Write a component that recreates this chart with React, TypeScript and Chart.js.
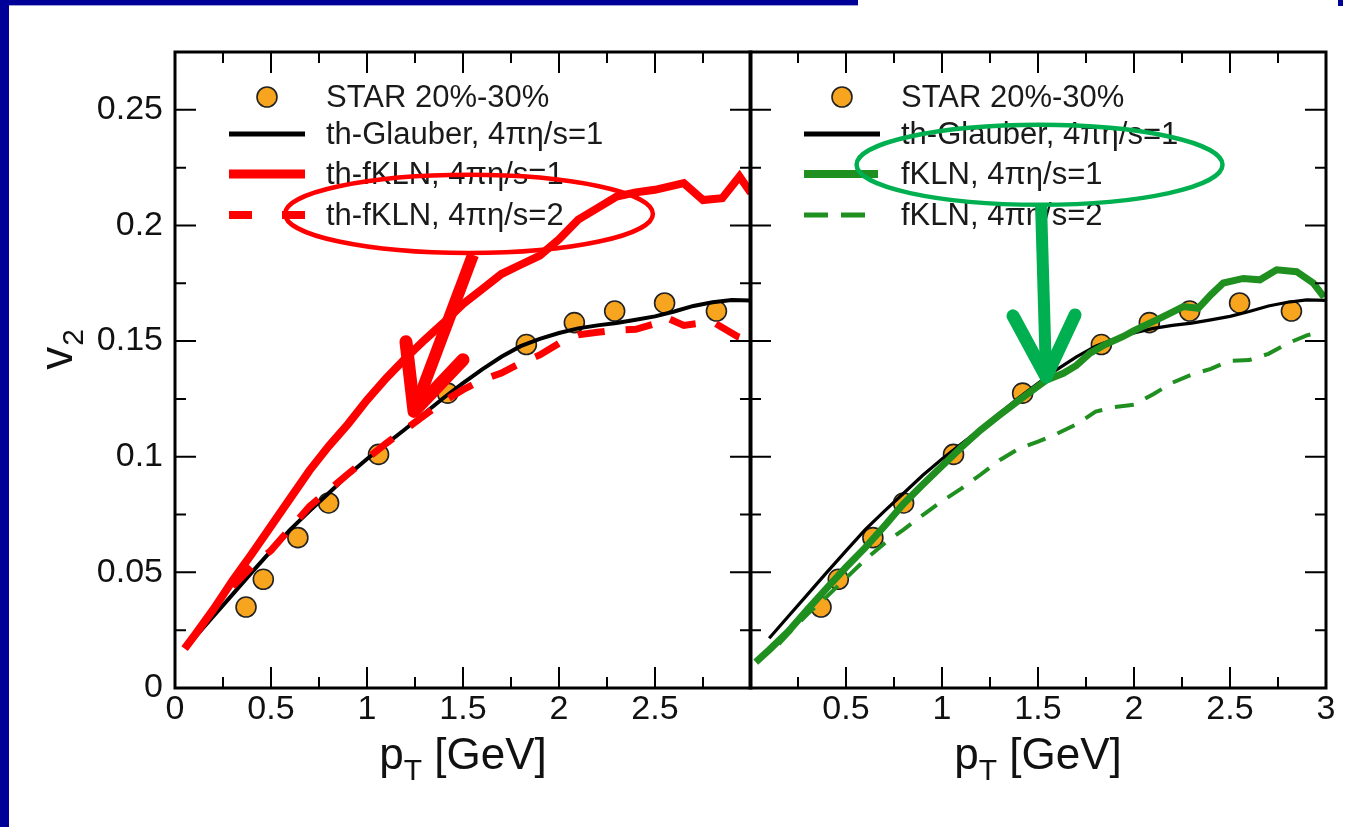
import React, { useEffect, useRef } from "react";
import { Chart, registerables } from "chart.js";

Chart.register(...registerables);

const W = 1358;
const H = 827;
const FONT = '"Liberation Sans", Arial, Helvetica, sans-serif';

// ---------- data ----------
const STAR_PT = [0.37, 0.46, 0.64, 0.8, 1.06, 1.42, 1.83, 2.08, 2.29, 2.55, 2.82];
const STAR_V2 = [0.035, 0.047, 0.065, 0.08, 0.101, 0.1275, 0.1485, 0.158, 0.163, 0.1665, 0.163];

const GLAUBER_PT = [0.1, 0.2, 0.3, 0.4, 0.5, 0.6, 0.7, 0.8, 0.9, 1.0, 1.1, 1.2, 1.3, 1.4, 1.5, 1.6, 1.7, 1.8, 1.9, 2.0, 2.1, 2.2, 2.3, 2.4, 2.5, 2.6, 2.7, 2.8, 2.9, 3.0];
const GLAUBER_V2 = [0.0215, 0.031, 0.0405, 0.05, 0.0593, 0.0685, 0.0765, 0.0842, 0.092, 0.099, 0.1055, 0.112, 0.1188, 0.1255, 0.1318, 0.1378, 0.1432, 0.1478, 0.151, 0.1535, 0.1555, 0.1568, 0.1578, 0.1592, 0.1607, 0.1628, 0.1652, 0.1668, 0.1678, 0.1676];

const TH_FKLN1_PT = [0.05, 0.1, 0.2, 0.3, 0.4, 0.5, 0.6, 0.7, 0.8, 0.9, 1.0, 1.1, 1.2, 1.3, 1.4, 1.5, 1.6, 1.7, 1.8, 1.9, 2.0, 2.1, 2.2, 2.3, 2.4, 2.5, 2.65, 2.75, 2.85, 2.94, 3.0];
const TH_FKLN1_V2 = [0.017, 0.0225, 0.034, 0.0465, 0.058, 0.07, 0.082, 0.094, 0.1045, 0.114, 0.1245, 0.134, 0.1425, 0.1505, 0.158, 0.166, 0.1725, 0.179, 0.183, 0.187, 0.194, 0.2025, 0.2075, 0.2125, 0.2143, 0.2154, 0.2183, 0.211, 0.2118, 0.2212, 0.214];

const TH_FKLN2_PT = [0.3, 0.4, 0.5, 0.6, 0.7, 0.8, 0.9, 1.0, 1.1, 1.2, 1.3, 1.4, 1.5, 1.6, 1.7, 1.8, 1.9, 2.0, 2.1, 2.2, 2.3, 2.4, 2.5, 2.55, 2.65, 2.8, 2.93, 3.0];
const TH_FKLN2_V2 = [0.0438, 0.0525, 0.0595, 0.069, 0.0785, 0.0855, 0.0925, 0.0992, 0.1058, 0.1118, 0.118, 0.124, 0.129, 0.1332, 0.1362, 0.1405, 0.144, 0.149, 0.1527, 0.1538, 0.1548, 0.1551, 0.1575, 0.1605, 0.1568, 0.1584, 0.152, 0.15];

const FKLN1_PT = [0.03, 0.1, 0.2, 0.3, 0.4, 0.5, 0.6, 0.7, 0.8, 0.9, 1.0, 1.1, 1.2, 1.3, 1.4, 1.5, 1.545, 1.632, 1.7, 1.771, 1.85, 1.944, 2.0, 2.118, 2.2, 2.257, 2.335, 2.4, 2.465, 2.569, 2.656, 2.743, 2.847, 2.934, 2.99];
const FKLN1_V2 = [0.0112, 0.0165, 0.0245, 0.034, 0.0432, 0.0522, 0.0607, 0.07, 0.0797, 0.088, 0.096, 0.104, 0.1115, 0.118, 0.1243, 0.1305, 0.1332, 0.1361, 0.1395, 0.1448, 0.1485, 0.152, 0.1545, 0.1592, 0.1625, 0.1649, 0.1642, 0.17, 0.1751, 0.1771, 0.1765, 0.1808, 0.18, 0.1751, 0.169];

const FKLN2_PT = [0.15, 0.2, 0.3, 0.4, 0.5, 0.6, 0.7, 0.8, 0.9, 1.0, 1.1, 1.2, 1.3, 1.4, 1.5, 1.6, 1.7, 1.8, 1.9, 2.0, 2.1, 2.2, 2.3, 2.4, 2.5, 2.6, 2.7, 2.8, 2.9, 2.95];
const FKLN2_V2 = [0.019, 0.0235, 0.032, 0.0395, 0.0475, 0.0555, 0.0625, 0.0685, 0.0748, 0.0808, 0.0862, 0.0922, 0.0985, 0.1035, 0.1065, 0.11, 0.114, 0.1195, 0.1215, 0.1225, 0.127, 0.132, 0.1355, 0.138, 0.1415, 0.1418, 0.1445, 0.149, 0.1525, 0.1535];

const LEGEND_LEFT = ["STAR 20%-30%", "th-Glauber, 4πη/s=1", "th-fKLN, 4πη/s=1", "th-fKLN, 4πη/s=2"];
const LEGEND_RIGHT = ["STAR 20%-30%", "th-Glauber, 4πη/s=1", "fKLN, 4πη/s=1", "fKLN, 4πη/s=2"];

const X_TITLE = ["p", "T", " [GeV]"];
const Y_TITLE = ["v", "2"];

// axis ranges / ticks
const X_MIN = 0, X_MAX = 3, X_MAJOR = 0.5, X_MINOR = 0.25;
const Y_MIN = 0, Y_MAX = 0.275, Y_MAJOR = 0.05, Y_MINOR = 0.025;

// annotations in data coordinates (pT, v2)
const ANN_LEFT = {
  color: "#ff0000",
  ellipse: { x: 1.531, y: 0.205, rx: 0.958, ry: 0.0169 },
  shaft: [[1.552, 0.1873], [1.245, 0.1196]],
  head: [[1.203, 0.1497], [1.245, 0.1196], [1.5, 0.1419]],
};
const ANN_RIGHT = {
  color: "#00b050",
  ellipse: { x: 1.508, y: 0.2262, rx: 0.953, ry: 0.0173 },
  shaft: [[1.516, 0.2085], [1.542, 0.1345]],
  head: [[1.37, 0.1609], [1.542, 0.1345], [1.693, 0.1613]],
};

// ---------- styles / layout ----------
const ORANGE = "#f7a51e";
const RED = "#ff0000";
const GREEN = "#1f8f1f";
const TICK_MAJOR = 21;
const TICK_MINOR = 11;
const PLOT_TOP = 52;
const PLOT_BOTTOM = 688;

type Series = {
  label: string;
  xs: number[];
  ys: number[];
  marker?: boolean;
  color: string;
  width: number;
  dash: number[];
  legendWidth: number;
  legendDash: number[];
  legendLen: number;
};

type Panel = {
  id: string;
  left: number;
  right: number;
  showY: boolean;
  hideX: number;
  series: Series[]; // legend order
  ann: typeof ANN_LEFT;
};

const zip = (xs: number[], ys: number[]) => xs.map((x, i) => ({ x, y: ys[i] }));

function buildPanels(): Panel[] {
  const star = (label: string): Series => ({
    label, xs: STAR_PT, ys: STAR_V2, marker: true, color: ORANGE, width: 0, dash: [], legendWidth: 0, legendDash: [], legendLen: 0,
  });
  const glauber = (label: string, w: number): Series => ({
    label, xs: GLAUBER_PT, ys: GLAUBER_V2, color: "#000000", width: w, dash: [], legendWidth: 5, legendDash: [], legendLen: 76,
  });
  return [
    {
      id: "L", left: 175, right: 751, showY: true, hideX: 3,
      series: [
        star(LEGEND_LEFT[0]),
        glauber(LEGEND_LEFT[1], 4),
        { label: LEGEND_LEFT[2], xs: TH_FKLN1_PT, ys: TH_FKLN1_V2, color: RED, width: 8, dash: [], legendWidth: 9, legendDash: [], legendLen: 76 },
        { label: LEGEND_LEFT[3], xs: TH_FKLN2_PT, ys: TH_FKLN2_V2, color: RED, width: 7, dash: [27, 21], legendWidth: 8, legendDash: [23, 30], legendLen: 76 },
      ],
      ann: ANN_LEFT,
    },
    {
      id: "R", left: 750, right: 1326, showY: false, hideX: 0,
      series: [
        star(LEGEND_RIGHT[0]),
        glauber(LEGEND_RIGHT[1], 3.2),
        { label: LEGEND_RIGHT[2], xs: FKLN1_PT, ys: FKLN1_V2, color: GREEN, width: 7, dash: [], legendWidth: 8, legendDash: [], legendLen: 74 },
        { label: LEGEND_RIGHT[3], xs: FKLN2_PT, ys: FKLN2_V2, color: GREEN, width: 4, dash: [19, 13], legendWidth: 5, legendDash: [24, 13], legendLen: 63 },
      ],
      ann: ANN_RIGHT,
    },
  ];
}

function decorPlugin(p: Panel) {
  return {
    id: "decor" + p.id,
    afterDatasetsDraw(chart: any) {
      const { ctx, chartArea: a } = chart;
      const xs = chart.scales.x;
      const ys = chart.scales.y;
      ctx.save();
      ctx.strokeStyle = "#000";
      ctx.lineWidth = 2;
      ctx.beginPath();
      const nx = Math.round((X_MAX - X_MIN) / X_MINOR);
      for (let i = 1; i < nx; i++) {
        const px = xs.getPixelForValue(X_MIN + i * X_MINOR);
        const len = i % 2 === 0 ? TICK_MAJOR : TICK_MINOR;
        ctx.moveTo(px, a.bottom);
        ctx.lineTo(px, a.bottom - len);
        ctx.moveTo(px, a.top);
        ctx.lineTo(px, a.top + len);
      }
      const ny = Math.round((Y_MAX - Y_MIN) / Y_MINOR);
      for (let i = 1; i < ny; i++) {
        const py = ys.getPixelForValue(Y_MIN + i * Y_MINOR);
        const len = i % 2 === 0 ? TICK_MAJOR : TICK_MINOR;
        ctx.moveTo(a.left, py);
        ctx.lineTo(a.left + len, py);
        ctx.moveTo(a.right, py);
        ctx.lineTo(a.right - len, py);
      }
      ctx.stroke();
      ctx.lineWidth = 3;
      ctx.strokeRect(a.left, a.top, a.right - a.left, a.bottom - a.top);
      ctx.restore();
    },
    afterDraw(chart: any) {
      const { ctx, chartArea: a } = chart;
      const xs = chart.scales.x;
      const ys = chart.scales.y;
      ctx.save();

      // legend
      const rows = [45, 82, 122, 163];
      p.series.forEach((s, i) => {
        const y = a.top + rows[i];
        if (s.marker) {
          ctx.beginPath();
          ctx.arc(a.left + 92, y, 10, 0, Math.PI * 2);
          ctx.fillStyle = s.color;
          ctx.fill();
          ctx.lineWidth = 1.6;
          ctx.strokeStyle = "#222";
          ctx.stroke();
        } else {
          ctx.beginPath();
          ctx.setLineDash(s.legendDash);
          ctx.lineWidth = s.legendWidth;
          ctx.strokeStyle = s.color;
          ctx.lineCap = "butt";
          ctx.moveTo(a.left + 54, y);
          ctx.lineTo(a.left + 54 + s.legendLen, y);
          ctx.stroke();
          ctx.setLineDash([]);
        }
        ctx.fillStyle = "#1a1a1a";
        ctx.font = `31px ${FONT}`;
        ctx.textAlign = "left";
        ctx.textBaseline = "middle";
        ctx.fillText(s.label, a.left + 151, y + 1);
      });

      // x title
      ctx.fillStyle = "#111";
      ctx.textBaseline = "alphabetic";
      ctx.textAlign = "left";
      const big = `44px ${FONT}`;
      const small = `30px ${FONT}`;
      ctx.font = big;
      const w0 = ctx.measureText(X_TITLE[0]).width;
      const w2 = ctx.measureText(X_TITLE[2]).width;
      ctx.font = small;
      const w1 = ctx.measureText(X_TITLE[1]).width;
      const cx = (a.left + a.right) / 2;
      let x = cx - (w0 + w1 + w2) / 2;
      const base = 769;
      ctx.font = big;
      ctx.fillText(X_TITLE[0], x, base);
      x += w0;
      ctx.font = small;
      ctx.fillText(X_TITLE[1], x, base + 11);
      x += w1;
      ctx.font = big;
      ctx.fillText(X_TITLE[2], x, base);

      // y title
      if (p.showY) {
        ctx.save();
        ctx.translate(72, 350);
        ctx.rotate(-Math.PI / 2);
        ctx.font = `46px ${FONT}`;
        const vw = ctx.measureText(Y_TITLE[0]).width;
        ctx.font = small;
        const sw = ctx.measureText(Y_TITLE[1]).width;
        let yx = -(vw + sw) / 2;
        ctx.font = `46px ${FONT}`;
        ctx.fillText(Y_TITLE[0], yx, 0);
        yx += vw + 1;
        ctx.font = small;
        ctx.fillText(Y_TITLE[1], yx, 11);
        ctx.restore();
      }

      // annotations
      const ann = p.ann;
      const px = (pt: number[]) => [xs.getPixelForValue(pt[0]), ys.getPixelForValue(pt[1])];
      const e = ann.ellipse;
      const ecx = xs.getPixelForValue(e.x);
      const ecy = ys.getPixelForValue(e.y);
      const erx = xs.getPixelForValue(e.x + e.rx) - ecx;
      const ery = ecy - ys.getPixelForValue(e.y + e.ry);
      ctx.strokeStyle = ann.color;
      ctx.lineWidth = 4.5;
      ctx.beginPath();
      ctx.ellipse(ecx, ecy, erx, ery, 0, 0, Math.PI * 2);
      ctx.stroke();

      const s0 = px(ann.shaft[0]);
      const s1 = px(ann.shaft[1]);
      ctx.lineWidth = 12;
      ctx.lineCap = "butt";
      ctx.beginPath();
      ctx.moveTo(s0[0], s0[1]);
      ctx.lineTo(s1[0], s1[1]);
      ctx.stroke();

      ctx.lineWidth = 13;
      ctx.lineCap = "round";
      ctx.lineJoin = "round";
      ctx.beginPath();
      ann.head.forEach((pt, i) => {
        const q = px(pt);
        if (i === 0) ctx.moveTo(q[0], q[1]);
        else ctx.lineTo(q[0], q[1]);
      });
      ctx.stroke();

      ctx.restore();
    },
  };
}

function makeConfig(p: Panel): any {
  const drawOrder = [p.series[2], p.series[3], p.series[1], p.series[0]];
  const datasets = drawOrder.map((s) =>
    s.marker
      ? {
          label: s.label,
          data: zip(s.xs, s.ys),
          showLine: false,
          pointRadius: 10,
          pointBackgroundColor: s.color,
          pointBorderColor: "#222",
          pointBorderWidth: 1.6,
        }
      : {
          label: s.label,
          data: zip(s.xs, s.ys),
          showLine: true,
          pointRadius: 0,
          borderColor: s.color,
          borderWidth: s.width,
          borderDash: s.dash,
          fill: false,
          tension: 0,
        }
  );
  return {
    type: "scatter",
    data: { datasets },
    options: {
      animation: false,
      responsive: false,
      maintainAspectRatio: false,
      events: [],
      layout: {
        padding: { left: 0, right: W - p.right, top: PLOT_TOP, bottom: 0 },
      },
      plugins: { legend: { display: false }, tooltip: { enabled: false } },
      scales: {
        x: {
          type: "linear",
          position: "bottom",
          min: X_MIN,
          max: X_MAX,
          grid: { display: false, drawTicks: false },
          border: { display: false },
          ticks: {
            stepSize: X_MAJOR,
            autoSkip: false,
            maxRotation: 0,
            padding: 1,
            color: "#111",
            font: { family: FONT, size: 34 },
            callback: (v: number) => (Math.abs(v - p.hideX) < 1e-9 ? "" : String(v)),
          },
          afterFit: (s: any) => {
            s.height = H - PLOT_BOTTOM;
          },
        },
        y: {
          type: "linear",
          position: "left",
          min: Y_MIN,
          max: Y_MAX,
          grid: { display: false, drawTicks: false },
          border: { display: false },
          ticks: {
            display: p.showY,
            stepSize: Y_MAJOR,
            includeBounds: false,
            autoSkip: false,
            padding: 12,
            color: "#111",
            font: { family: FONT, size: 34 },
            callback: (v: number) => String(Math.round(v * 1000) / 1000),
          },
          afterFit: (s: any) => {
            s.width = p.left;
          },
        },
      },
    },
    plugins: [decorPlugin(p)],
  };
}

export default function App() {
  const leftRef = useRef<HTMLCanvasElement | null>(null);
  const rightRef = useRef<HTMLCanvasElement | null>(null);

  useEffect(() => {
    const panels = buildPanels();
    const charts: Chart[] = [];
    if (leftRef.current) charts.push(new Chart(leftRef.current, makeConfig(panels[0])));
    if (rightRef.current) charts.push(new Chart(rightRef.current, makeConfig(panels[1])));
    return () => charts.forEach((c) => c.destroy());
  }, []);

  const blue = "#000099";
  const canvasStyle: React.CSSProperties = { position: "absolute", left: 0, top: 0, width: W, height: H };
  return (
    <div style={{ position: "fixed", left: 0, top: 0, width: W, height: H, background: "#ffffff", overflow: "hidden" }}>
      <div style={{ position: "absolute", left: 0, top: 0, width: 9, height: H, background: blue }} />
      <div style={{ position: "absolute", left: 0, top: 0, width: 858, height: 5, background: blue }} />
      <div style={{ position: "absolute", left: 9, top: 5, width: 849, height: 1, background: "#a0a0d8" }} />
      <div style={{ position: "absolute", left: 1338, top: 0, width: 5, height: 6, background: blue }} />
      <canvas ref={leftRef} width={W} height={H} style={canvasStyle} />
      <canvas ref={rightRef} width={W} height={H} style={canvasStyle} />
    </div>
  );
}
